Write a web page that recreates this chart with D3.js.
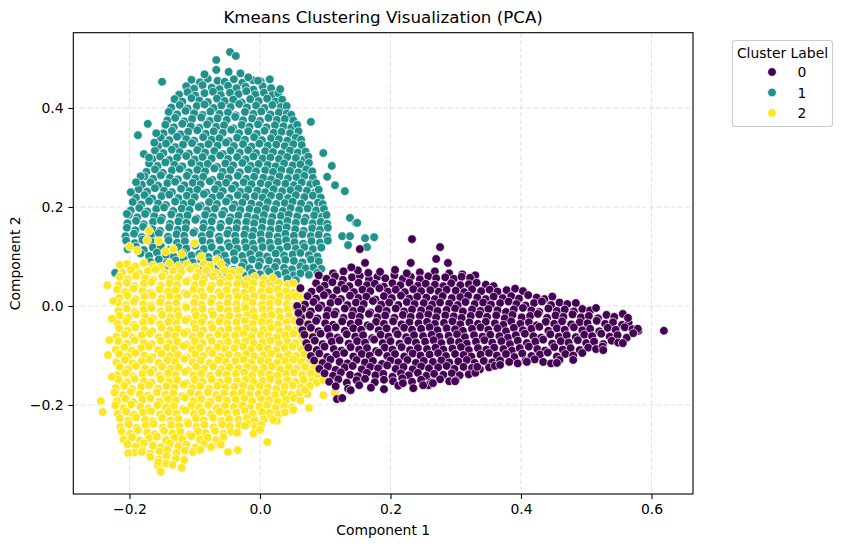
<!DOCTYPE html>
<html><head><meta charset="utf-8">
<script src="https://cdn.jsdelivr.net/npm/d3@7"></script>
<style>body{margin:0;background:#fff}svg text{font-family:"DejaVu Sans",sans-serif;fill:#000}</style>
</head><body><svg id="chart" width="843" height="547"></svg>
<script>
const chartTitle = "Kmeans Clustering Visualization (PCA)";
const xLabel = "Component 1";
const yLabel = "Component 2";
const legendTitle = "Cluster Label";
const clusterLabels = ["0", "1", "2"];
const clusterColors = ["#440154", "#21918c", "#fde725"];
const xTicks = [-0.2, 0.0, 0.2, 0.4, 0.6];
const yTicks = [-0.2, 0.0, 0.2, 0.4];

// Points, as flat x,y pairs in thousandths of a component unit
const cluster1_xy = [
-105,457,-92,452,-80,459,-65,455,-54,453,-40,458,-27,451,-11,456,1,454,15,458,
-113,444,-101,439,-88,446,-74,441,-62,438,-49,445,-36,440,-22,443,-10,437,4,444,17,440,
-124,427,-111,432,-99,425,-85,430,-72,433,-60,426,-46,431,-33,428,-21,434,-7,427,6,431,19,426,28,430,
-131,418,-119,413,-105,420,-93,415,-80,412,-66,419,-54,414,-41,417,-28,411,-15,418,-2,414,11,419,24,413,34,417,
-136,401,-123,406,-111,399,-97,404,-85,407,-71,400,-59,405,-45,402,-32,408,-20,401,-6,405,7,400,19,406,32,402,41,404,
-140,392,-127,387,-114,394,-101,389,-88,386,-76,393,-62,388,-49,391,-37,385,-23,392,-10,388,2,393,16,387,29,391,41,389,48,386,
-142,375,-130,380,-116,373,-104,378,-90,381,-77,374,-65,379,-51,376,-38,382,-26,375,-12,379,0,374,13,380,26,376,38,378,51,375,
-145,366,-132,361,-119,368,-106,363,-93,360,-81,367,-67,362,-55,365,-41,359,-28,366,-16,362,-3,367,10,361,23,365,36,363,48,360,57,366,
-148,349,-135,354,-122,347,-110,352,-96,355,-83,348,-71,353,-57,350,-44,356,-32,349,-18,353,-5,348,7,354,21,350,33,352,46,349,59,353,
-152,340,-139,335,-127,342,-113,337,-101,334,-87,341,-74,336,-62,339,-48,333,-35,340,-23,336,-9,341,3,335,17,339,29,337,42,334,55,340,63,336,
-156,323,-144,328,-130,321,-118,326,-104,329,-91,322,-79,327,-65,324,-52,330,-40,323,-26,327,-13,322,-1,328,12,324,25,326,38,323,51,327,64,325,
-161,314,-148,309,-135,316,-123,311,-109,308,-96,315,-84,310,-70,313,-57,307,-45,314,-31,310,-18,315,-6,309,8,313,20,311,33,308,46,314,58,310,70,312,
-165,297,-153,302,-139,295,-127,300,-113,303,-100,296,-88,301,-74,298,-61,304,-49,297,-35,301,-22,296,-10,302,4,298,16,300,29,297,42,301,55,299,68,296,74,302,
-170,288,-157,283,-145,290,-131,285,-119,282,-105,289,-92,284,-80,287,-66,281,-53,288,-41,284,-27,289,-14,283,-2,287,12,285,24,282,37,288,50,284,62,286,75,289,
-174,271,-161,276,-149,269,-135,274,-123,277,-109,270,-96,275,-84,272,-70,278,-57,271,-45,275,-31,270,-18,276,-6,272,8,274,20,271,33,275,46,273,59,270,71,276,80,272,
-177,262,-164,257,-152,264,-138,259,-126,256,-112,263,-99,258,-87,261,-73,255,-60,262,-48,258,-34,263,-21,257,-9,261,5,259,17,256,30,262,43,258,56,260,68,263,81,259,
-181,245,-168,250,-156,243,-142,248,-130,251,-116,244,-103,249,-91,246,-77,252,-64,245,-52,249,-38,244,-25,250,-13,246,1,248,13,245,26,249,39,247,52,244,64,250,77,246,86,248,
-186,236,-173,231,-161,238,-147,233,-135,230,-121,237,-108,232,-96,235,-82,229,-69,236,-57,232,-43,237,-30,231,-18,235,-4,233,8,230,21,236,34,232,47,234,59,237,72,233,85,230,90,235,
-190,219,-177,224,-165,217,-151,222,-139,225,-125,218,-112,223,-100,220,-86,226,-73,219,-61,223,-47,218,-34,224,-22,220,-8,222,4,219,17,223,30,221,43,218,55,224,68,220,81,223,93,219,
-195,210,-182,205,-170,212,-156,207,-144,204,-130,211,-117,206,-105,209,-91,203,-78,210,-66,206,-52,211,-39,205,-27,209,-13,207,-1,204,12,210,25,206,38,208,50,211,63,207,76,204,89,209,96,206,
-198,193,-185,198,-173,191,-159,196,-147,199,-133,192,-120,197,-108,194,-94,200,-81,193,-69,197,-55,192,-42,198,-30,194,-16,196,-4,193,9,197,22,195,35,192,47,198,60,194,73,197,86,193,98,196,
-201,184,-188,179,-176,186,-162,181,-150,178,-136,185,-123,180,-111,183,-97,177,-84,184,-72,180,-58,185,-45,179,-33,183,-19,181,-7,178,6,184,19,180,32,182,44,185,57,181,70,178,83,183,95,180,102,184,
-203,167,-190,172,-178,165,-164,170,-152,173,-138,166,-125,171,-113,168,-99,174,-86,167,-74,171,-60,166,-47,172,-35,168,-21,170,-9,167,4,171,17,169,30,166,42,172,55,168,68,171,81,167,93,170,103,166,
-204,158,-191,153,-179,160,-165,155,-153,152,-139,159,-126,154,-114,157,-100,151,-87,158,-75,154,-61,159,-48,153,-36,157,-22,155,-10,152,3,158,16,154,29,156,41,159,54,155,67,152,80,157,92,154,104,158,
-206,141,-193,146,-181,139,-167,144,-155,147,-141,140,-128,145,-116,142,-102,148,-89,141,-77,145,-63,140,-50,146,-38,142,-24,144,-12,141,1,145,14,143,27,140,39,146,52,142,65,145,78,141,90,144,103,140,
-205,132,-192,127,-180,134,-166,129,-154,126,-140,133,-127,128,-115,131,-101,125,-88,132,-76,128,-62,133,-49,127,-37,131,-23,129,-11,126,2,132,15,128,28,130,40,133,53,129,66,126,79,131,92,128,104,132,
-203,115,-190,120,-178,113,-164,118,-152,121,-138,114,-125,119,-113,116,-99,122,-86,115,-74,119,-60,114,-47,120,-35,116,-21,118,-9,115,4,119,17,117,30,114,42,120,55,116,68,119,81,115,94,118,
-183,106,-170,101,-158,108,-144,103,-132,100,-118,107,-105,102,-93,105,-79,99,-66,106,-54,102,-40,107,-27,101,-15,105,-1,103,11,100,24,106,37,102,50,104,62,107,75,103,88,100,
-168,89,-155,94,-143,87,-129,92,-117,95,-103,88,-90,93,-78,90,-64,96,-51,89,-39,93,-25,88,-12,94,0,90,14,92,26,89,39,93,52,91,65,88,78,94,90,90,
-145,80,-132,75,-120,82,-106,77,-94,74,-80,81,-67,76,-55,79,-41,73,-28,80,-16,76,-2,81,11,75,23,79,37,77,49,74,62,80,70,76,82,78,94,75,
-90,63,-77,68,-65,61,-51,66,-39,69,-25,62,-12,67,0,64,14,70,27,63,39,67,52,62,62,66,75,63,88,67,
-50,54,-30,50,-12,56,8,51,25,49,42,55,55,52,
-46,513,-37,505,-67,497,-67,477,-48,473,-150,453,-18,462,-3,455,31,438,-85,468,-30,470,-187,345,-178,307,-198,230,-204,186,-172,368,-159,349,
78,372,97,309,110,283,130,232,138,178,147,168,115,244,103,261,161,137,175,139,126,141,138,141,164,119,135,123,149,168,-222,67,
-162,330,-170,300,-183,262,-190,250
];

const cluster2_xy = [
-204,85,-191,80,-178,87,-164,82,-152,79,-139,86,-125,81,-112,84,-99,78,-86,85,-76,81,
-211,68,-198,73,-186,66,-172,71,-160,74,-146,67,-133,72,-121,69,-107,75,-94,68,-82,72,-68,67,-55,73,-43,69,-31,71,
-215,59,-202,54,-190,61,-176,56,-164,53,-150,60,-137,55,-125,58,-111,52,-98,59,-86,55,-72,60,-59,54,-47,58,-33,56,-20,53,-8,59,6,55,19,57,
-217,42,-204,47,-192,40,-178,45,-166,48,-152,41,-139,46,-127,43,-113,49,-100,42,-88,46,-74,41,-61,47,-49,43,-35,45,-22,42,-10,46,4,44,16,41,29,47,42,43,51,46,
-219,33,-206,28,-194,35,-180,30,-168,27,-154,34,-141,29,-129,32,-115,26,-102,33,-90,29,-76,34,-63,28,-51,32,-37,30,-24,27,-12,33,2,29,14,31,27,34,40,30,52,27,61,32,
-216,16,-203,21,-191,14,-177,19,-165,22,-151,15,-138,20,-126,17,-112,23,-99,16,-87,20,-73,15,-60,21,-48,17,-34,19,-21,16,-9,20,5,18,17,15,30,21,43,17,55,20,64,16,
-218,7,-205,2,-193,9,-179,4,-167,1,-153,8,-140,3,-128,6,-114,0,-101,7,-89,3,-75,8,-62,2,-50,6,-36,4,-23,1,-11,7,3,3,15,5,28,8,41,4,53,1,65,6,
-217,-10,-204,-5,-192,-12,-178,-7,-166,-4,-152,-11,-139,-6,-127,-9,-113,-3,-100,-10,-88,-6,-74,-11,-61,-5,-49,-9,-35,-7,-22,-4,-10,-10,4,-6,16,-8,29,-11,42,-7,54,-4,67,-9,
-215,-19,-202,-24,-190,-17,-176,-22,-164,-25,-150,-18,-137,-23,-125,-20,-111,-26,-98,-19,-86,-23,-72,-18,-59,-24,-47,-20,-33,-22,-20,-19,-8,-23,6,-21,18,-18,31,-24,44,-20,56,-23,70,-19,
-218,-36,-205,-31,-193,-38,-179,-33,-167,-30,-153,-37,-140,-32,-128,-35,-114,-29,-101,-36,-89,-32,-75,-37,-62,-31,-50,-35,-36,-33,-23,-30,-11,-36,3,-32,15,-34,28,-37,41,-33,53,-30,66,-35,76,-32,
-216,-45,-203,-50,-191,-43,-177,-48,-165,-51,-151,-44,-138,-49,-126,-46,-112,-52,-99,-45,-87,-49,-73,-44,-60,-50,-48,-46,-34,-48,-21,-45,-9,-49,5,-47,17,-44,30,-50,43,-46,55,-49,68,-45,80,-48,
-220,-62,-207,-57,-195,-64,-181,-59,-169,-56,-155,-63,-142,-58,-130,-61,-116,-55,-103,-62,-91,-58,-77,-63,-64,-57,-52,-61,-38,-59,-25,-56,-13,-62,1,-58,13,-60,26,-63,39,-59,51,-56,64,-61,77,-58,84,-62,
-217,-71,-204,-76,-192,-69,-178,-74,-166,-77,-152,-70,-139,-75,-127,-72,-113,-78,-100,-71,-88,-75,-74,-70,-61,-76,-49,-72,-35,-74,-22,-71,-10,-75,4,-73,16,-70,29,-76,42,-72,54,-75,67,-71,80,-74,
-221,-88,-208,-83,-196,-90,-182,-85,-170,-82,-156,-89,-143,-84,-131,-87,-117,-81,-104,-88,-92,-84,-78,-89,-65,-83,-53,-87,-39,-85,-26,-82,-14,-88,0,-84,12,-86,25,-89,38,-85,50,-82,63,-87,76,-84,88,-88,
-216,-97,-203,-102,-191,-95,-177,-100,-165,-103,-151,-96,-138,-101,-126,-98,-112,-104,-99,-97,-87,-101,-73,-96,-60,-102,-48,-98,-34,-100,-21,-97,-9,-101,5,-99,17,-96,30,-102,43,-98,55,-101,68,-97,81,-100,90,-103,
-220,-114,-207,-109,-195,-116,-181,-111,-169,-108,-155,-115,-142,-110,-130,-113,-116,-107,-103,-114,-91,-110,-77,-115,-64,-109,-52,-113,-38,-111,-25,-108,-13,-114,1,-110,13,-112,26,-115,39,-111,51,-108,64,-113,77,-110,90,-114,
-215,-123,-202,-128,-190,-121,-176,-126,-164,-129,-150,-122,-137,-127,-125,-124,-111,-130,-98,-123,-86,-127,-72,-122,-59,-128,-47,-124,-33,-126,-20,-123,-8,-127,6,-125,18,-122,31,-128,44,-124,56,-127,69,-123,82,-126,92,-129,
-219,-140,-206,-135,-194,-142,-180,-137,-168,-134,-154,-141,-141,-136,-129,-139,-115,-133,-102,-140,-90,-136,-76,-141,-63,-135,-51,-139,-37,-137,-24,-134,-12,-140,2,-136,14,-138,27,-141,40,-137,52,-134,65,-139,78,-136,89,-140,
-217,-149,-204,-154,-192,-147,-178,-152,-166,-155,-152,-148,-139,-153,-127,-150,-113,-156,-100,-149,-88,-153,-74,-148,-61,-154,-49,-150,-35,-152,-22,-149,-10,-153,4,-151,16,-148,29,-154,42,-150,54,-153,67,-149,80,-152,87,-155,
-221,-166,-208,-161,-196,-168,-182,-163,-170,-160,-156,-167,-143,-162,-131,-165,-117,-159,-104,-166,-92,-162,-78,-167,-65,-161,-53,-165,-39,-163,-26,-160,-14,-166,0,-162,12,-164,25,-167,38,-163,50,-160,63,-165,76,-162,
-223,-175,-210,-180,-198,-173,-184,-178,-172,-181,-158,-174,-145,-179,-133,-176,-119,-182,-106,-175,-94,-179,-80,-174,-67,-180,-55,-176,-41,-178,-28,-175,-16,-179,-2,-177,10,-174,23,-180,36,-176,48,-179,61,-175,73,-178,
-219,-192,-206,-187,-194,-194,-180,-189,-168,-186,-154,-193,-141,-188,-129,-191,-115,-185,-102,-192,-90,-188,-76,-193,-63,-187,-51,-191,-37,-189,-24,-186,-12,-192,2,-188,14,-190,27,-193,40,-189,52,-186,62,-191,
-222,-201,-209,-206,-197,-199,-183,-204,-171,-207,-157,-200,-144,-205,-132,-202,-118,-208,-105,-201,-93,-205,-79,-200,-66,-206,-54,-202,-40,-204,-27,-201,-15,-205,-1,-203,11,-200,24,-206,37,-202,49,-205,
-218,-218,-205,-213,-193,-220,-179,-215,-167,-212,-153,-219,-140,-214,-128,-217,-114,-211,-101,-218,-89,-214,-75,-219,-62,-213,-50,-217,-36,-215,-23,-212,-11,-218,3,-214,15,-216,28,-219,38,-215,
-215,-227,-202,-232,-190,-225,-176,-230,-164,-233,-150,-226,-137,-231,-125,-228,-111,-234,-98,-227,-86,-231,-72,-226,-59,-232,-47,-228,-33,-230,-20,-227,-8,-231,6,-229,18,-226,26,-232,
-214,-244,-201,-239,-189,-246,-175,-241,-163,-238,-149,-245,-136,-240,-124,-243,-110,-237,-97,-244,-85,-240,-71,-245,-58,-239,-46,-243,-32,-241,-19,-238,-7,-244,2,-240,
-212,-253,-199,-258,-187,-251,-173,-256,-161,-259,-147,-252,-134,-257,-122,-254,-108,-260,-95,-253,-83,-257,-69,-252,-56,-258,-44,-254,-35,-256,
-209,-270,-196,-265,-184,-272,-170,-267,-158,-264,-144,-271,-131,-266,-119,-269,-105,-263,-92,-270,-80,-266,-67,-271,-56,-265,
-203,-279,-190,-284,-178,-277,-164,-282,-152,-285,-138,-278,-125,-283,-113,-280,-99,-286,-86,-279,-72,-283,
-193,-296,-180,-291,-168,-298,-154,-293,-142,-290,-128,-297,-115,-292,-103,-295,-91,-289,
-168,-305,-155,-310,-143,-303,-129,-308,-116,-311,
-157,-322,-144,-318,-134,-321,
-234,42,-225,10,-227,-26,-231,-69,-233,-99,-227,-143,-244,-192,-241,-214,-202,-297,-152,-335,-120,-327,-181,-295,-156,-315,-92,-291,-49,-295,-34,-291,11,-275,-23,-242,20,-230,51,-210,75,-206,97,-180,69,-170,115,-176,97,-150,
-170,152,-155,131,-133,115,-173,133,-100,127,-66,93,-188,112,-200,120,-145,110,-120,105,-90,100,-60,85,-215,83,
-75,-285,-60,-280,-10,-258,0,-250
];

const cluster0_xy = [
112,66,128,70,245,68,268,70,290,66,310,64,330,62,
102,55,115,60,127,53,141,58,153,61,167,54,180,59,192,56,206,62,219,55,231,59,245,54,258,60,270,56,284,58,297,55,309,59,322,57,
86,46,99,41,111,48,125,43,137,40,151,47,164,42,176,45,190,39,203,46,215,42,229,47,242,41,254,45,268,43,281,40,293,46,307,42,320,44,332,47,346,43,358,40,
79,29,92,34,104,27,118,32,130,35,144,28,157,33,169,30,183,36,196,29,208,33,222,28,235,34,247,30,261,32,274,29,286,33,300,31,313,28,325,34,339,30,352,33,364,29,378,32,391,35,403,30,
73,20,86,15,98,22,112,17,124,14,138,21,151,16,163,19,177,13,190,20,202,16,216,21,229,15,241,19,255,17,268,14,280,20,294,16,307,18,319,21,333,17,346,14,358,19,372,16,385,20,397,15,411,22,424,17,436,14,448,19,
69,3,82,8,94,1,108,6,120,9,134,2,147,7,159,4,173,10,186,3,198,7,212,2,225,8,237,4,251,6,264,3,276,7,290,5,303,2,315,8,329,4,342,7,354,3,368,6,381,9,393,4,407,1,420,6,432,9,446,2,459,7,471,4,484,6,
65,-6,78,-11,90,-4,104,-9,116,-12,130,-5,143,-10,155,-7,169,-13,182,-6,194,-10,208,-5,221,-11,233,-7,247,-9,260,-6,272,-10,286,-8,299,-5,311,-11,325,-7,338,-10,350,-6,364,-9,377,-12,389,-7,403,-4,416,-9,428,-12,442,-5,455,-10,467,-7,481,-11,494,-6,506,-9,515,-4,
63,-23,76,-18,88,-25,102,-20,114,-17,128,-24,141,-19,153,-22,167,-16,180,-23,192,-19,206,-24,219,-18,231,-22,245,-20,258,-17,270,-23,284,-19,297,-21,309,-24,323,-20,336,-17,348,-22,362,-19,375,-25,387,-18,401,-23,414,-20,426,-16,440,-24,453,-19,465,-22,479,-17,492,-23,504,-20,518,-25,531,-18,543,-22,
61,-32,74,-37,86,-30,100,-35,112,-38,126,-31,139,-36,151,-33,165,-39,178,-32,190,-36,204,-31,217,-37,229,-33,243,-35,256,-32,268,-36,282,-34,295,-31,307,-37,321,-33,334,-36,346,-32,360,-35,373,-38,385,-31,399,-36,412,-33,424,-39,438,-32,451,-36,463,-31,477,-37,490,-33,502,-35,516,-30,529,-36,541,-33,555,-38,565,-34,
65,-49,78,-44,90,-51,104,-46,116,-43,130,-50,143,-45,155,-48,169,-42,182,-49,194,-45,208,-50,221,-44,233,-48,247,-46,260,-43,272,-49,286,-45,299,-47,311,-50,325,-46,338,-43,350,-48,364,-45,377,-51,389,-44,403,-49,416,-46,428,-42,442,-50,455,-45,467,-48,481,-43,494,-49,506,-46,520,-51,533,-44,545,-48,559,-43,571,-47,580,-50,
68,-58,81,-63,93,-56,107,-61,119,-64,133,-57,146,-62,158,-59,172,-65,185,-58,197,-62,211,-57,224,-63,236,-59,250,-61,263,-58,275,-62,289,-60,302,-57,314,-63,328,-59,341,-62,353,-58,367,-61,380,-64,392,-59,406,-56,419,-61,431,-64,445,-57,458,-62,470,-59,484,-63,497,-58,509,-61,523,-56,536,-62,548,-59,562,-64,
71,-75,84,-70,96,-77,110,-72,122,-69,136,-76,149,-71,161,-74,175,-68,188,-75,200,-71,214,-76,227,-70,239,-74,253,-72,266,-69,278,-75,292,-71,305,-73,317,-76,331,-72,344,-69,356,-74,370,-71,383,-77,395,-70,409,-75,422,-72,434,-68,448,-76,461,-71,473,-74,487,-69,500,-75,512,-72,526,-77,539,-70,549,-74,
74,-84,87,-89,99,-82,113,-87,125,-90,139,-83,152,-88,164,-85,178,-91,191,-84,203,-88,217,-83,230,-89,242,-85,256,-87,269,-84,281,-88,295,-86,308,-83,320,-89,334,-85,347,-88,359,-84,373,-87,386,-90,398,-85,412,-82,425,-87,437,-90,451,-83,464,-88,476,-85,490,-89,503,-84,515,-87,525,-82,
78,-101,91,-96,103,-103,117,-98,129,-95,143,-102,156,-97,168,-100,182,-94,195,-101,207,-97,221,-102,234,-96,246,-100,260,-98,273,-95,285,-101,299,-97,312,-99,324,-102,338,-98,351,-95,363,-100,377,-97,390,-103,402,-96,416,-101,429,-98,441,-94,455,-102,468,-97,480,-100,494,-95,
83,-110,96,-115,108,-108,122,-113,134,-116,148,-109,161,-114,173,-111,187,-117,200,-110,212,-114,226,-109,239,-115,251,-111,265,-113,278,-110,290,-114,304,-112,317,-109,329,-115,343,-111,356,-114,368,-110,382,-113,395,-116,407,-111,421,-108,434,-113,446,-116,459,-109,
91,-127,104,-122,116,-129,130,-124,142,-121,156,-128,169,-123,181,-126,195,-120,208,-127,220,-123,234,-128,247,-122,259,-126,273,-124,286,-121,298,-127,312,-123,325,-125,337,-128,351,-124,360,-121,
99,-136,112,-141,124,-134,138,-139,150,-142,164,-135,177,-140,189,-137,203,-143,216,-136,228,-140,242,-135,255,-141,267,-137,281,-139,294,-136,306,-140,320,-138,330,-135,
106,-153,120,-148,133,-155,148,-150,161,-147,176,-154,190,-149,204,-152,218,-146,233,-153,247,-149,262,-154,276,-148,290,-152,300,-150,
116,-162,135,-167,152,-160,170,-165,190,-168,212,-161,235,-166,258,-160,
233,135,276,119,270,95,288,87,231,87,153,115,161,87,619,-50,118,-188,126,-186,139,-170,219,-156,250,-160,265,-156,299,-152,
166,67,184,69,207,73,225,66,150,72,140,78,90,62,57,0,59,-14,62,36,556,-16,564,-24,579,-46,572,-55,556,-75,526,-89,480,-109,455,-115,409,-113,368,-119,333,-123
];

// ---- drawing ----
const svg = d3.select("#chart");
const plot = {left: 73.3, right: 693, top: 32.7, bottom: 494};
const x = d3.scaleLinear().domain([-0.2861, 0.6636]).range([plot.left, plot.right]);
const y = d3.scaleLinear().domain([-0.3798, 0.5521]).range([plot.bottom, plot.top]);
const color = d3.scaleOrdinal().domain(clusterLabels).range(clusterColors);

function toPoints(flat, label) {
  const pts = [];
  for (let i = 0; i < flat.length; i += 2) pts.push({x: flat[i] / 1000, y: flat[i + 1] / 1000, label});
  return pts;
}
const points = [].concat(
  toPoints(cluster1_xy, "1"),
  toPoints(cluster2_xy, "2"),
  toPoints(cluster0_xy, "0")
);

// grid
const grid = svg.append("g");
grid.selectAll("line.gx").data(xTicks).join("line")
  .attr("x1", d => x(d)).attr("x2", d => x(d))
  .attr("y1", plot.top).attr("y2", plot.bottom)
  .attr("stroke", "#b0b0b0").attr("stroke-opacity", 0.35)
  .attr("stroke-width", 1.1).attr("stroke-dasharray", "4.8,2.4");
grid.selectAll("line.gy").data(yTicks).join("line")
  .attr("y1", d => y(d)).attr("y2", d => y(d))
  .attr("x1", plot.left).attr("x2", plot.right)
  .attr("stroke", "#b0b0b0").attr("stroke-opacity", 0.35)
  .attr("stroke-width", 1.1).attr("stroke-dasharray", "4.8,2.4");

// points
svg.append("g").selectAll("circle").data(points).join("circle")
  .attr("cx", d => x(d.x)).attr("cy", d => y(d.y)).attr("r", 4.35)
  .attr("fill", d => color(d.label))
  .attr("stroke", "#ffffff").attr("stroke-width", 0.7);

// frame
svg.append("rect").attr("x", plot.left).attr("y", plot.top)
  .attr("width", plot.right - plot.left).attr("height", plot.bottom - plot.top)
  .attr("fill", "none").attr("stroke", "#000").attr("stroke-width", 1.1);

// axes
const fmt = d3.format(".1f");
const xAxis = svg.append("g").attr("transform", `translate(0,${plot.bottom})`)
  .call(d3.axisBottom(x).tickValues(xTicks).tickFormat(fmt).tickSize(4.9).tickPadding(4.9).tickSizeOuter(0));
const yAxis = svg.append("g").attr("transform", `translate(${plot.left},0)`)
  .call(d3.axisLeft(y).tickValues(yTicks).tickFormat(fmt).tickSize(4.9).tickPadding(4.9).tickSizeOuter(0));
[xAxis, yAxis].forEach(g => {
  g.select(".domain").remove();
  g.selectAll(".tick line").attr("stroke", "#000").attr("stroke-width", 1.1);
  g.selectAll(".tick text").attr("font-family", "DejaVu Sans").attr("font-size", "13.9px").attr("fill", "#000");
});

// labels
svg.append("text").attr("x", (plot.left + plot.right) / 2).attr("y", 23.3)
  .attr("text-anchor", "middle").attr("font-size", "16.7px").text(chartTitle);
svg.append("text").attr("x", (plot.left + plot.right) / 2).attr("y", 535)
  .attr("text-anchor", "middle").attr("font-size", "13.9px").text(xLabel);
svg.append("text").attr("transform", `translate(19.5,${(plot.top + plot.bottom) / 2}) rotate(-90)`)
  .attr("text-anchor", "middle").attr("font-size", "13.9px").text(yLabel);

// legend
const lg = svg.append("g");
lg.append("rect").attr("x", 732.5).attr("y", 40.5).attr("width", 100).attr("height", 86)
  .attr("rx", 2.8).attr("fill", "#fff").attr("fill-opacity", 0.8)
  .attr("stroke", "#cccccc").attr("stroke-width", 1.1);
lg.append("text").attr("x", 782.5).attr("y", 57.5).attr("text-anchor", "middle")
  .attr("font-size", "13.9px").text(legendTitle);
const rowY = d3.scalePoint().domain(clusterLabels).range([72, 113]);
const items = lg.selectAll("g.item").data(clusterLabels).join("g").attr("class", "item");
items.append("circle").attr("cx", 772).attr("cy", d => rowY(d)).attr("r", 4.35)
  .attr("fill", d => color(d)).attr("stroke", "#fff").attr("stroke-width", 0.7);
items.append("text").attr("x", 797.5).attr("y", d => rowY(d) + 5)
  .attr("font-size", "13.9px").text(d => d);
</script></body></html>
